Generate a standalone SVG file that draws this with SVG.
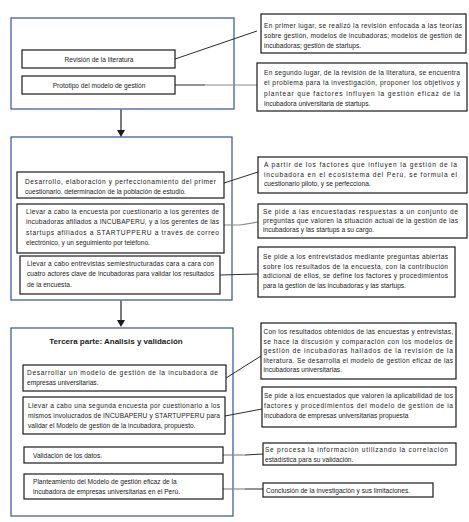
<svg xmlns="http://www.w3.org/2000/svg" width="469" height="522" viewBox="0 0 469 522">
<defs>
<style>
.cont{fill:none;stroke:#2F5496;stroke-width:1.2}
.box{fill:#fff;stroke:#1a1a1a;stroke-width:1.2}
.t{font-family:"Liberation Sans",Arial,sans-serif;font-size:6.6px;fill:#1a1a1a}
.c{text-anchor:middle}
.ttl{font-family:"Liberation Sans",Arial,sans-serif;font-size:8px;font-weight:bold;fill:#1a1a1a;text-anchor:middle}
.ln{fill:none;stroke:#2b2b2b;stroke-width:1}
.lg{fill:none;stroke:#8a8a8a;stroke-width:1.2}
.ar{fill:none;stroke:#7a7a7a;stroke-width:2}
</style>
<marker id="ah" viewBox="0 0 10 10" refX="9" refY="5" markerWidth="4" markerHeight="4" orient="auto" markerUnits="userSpaceOnUse">
<path d="M0,0 L10,5 L0,10 z" fill="#1a1a1a"/>
</marker>
</defs>
<rect width="469" height="522" fill="#fff"/>

<g id="containers">
<rect class="cont" x="11" y="18" width="223" height="91"/>
<rect class="cont" x="11" y="137" width="221" height="163"/>
<rect class="cont" x="11" y="328" width="222" height="188"/>
</g>

<g id="connectors">
<path class="ln" d="M175,59 L257,31"/>
<path class="ln" d="M175,85 L205,85"/>
<path class="lg" d="M205,85 L257,85"/>
<path class="ar" d="M121,109 L121,131"/>
<path d="M117,130 L125,130 L121,137 z" fill="#1a1a1a"/>
<path class="ln" d="M224,183 L258,172"/>
<path class="lg" d="M224,225 L240,225 L258,222"/>
<path class="ln" d="M220,275 L258,274"/>
<path class="ar" d="M121,300 L121,321"/>
<path d="M117,320 L125,320 L121,327 z" fill="#1a1a1a"/>
<path class="ln" d="M226,378 L261,356"/>
<path class="ln" d="M225,416 L262,409"/>
<path class="lg" d="M223,455 L245,455"/>
<path class="ln" d="M245,455 L263,454"/>
<path class="lg" d="M223,489 L245,489"/>
<path class="ln" d="M245,489 L263,489"/>
</g>

<g id="n-revision">
<rect class="box" x="22" y="50" width="153" height="18"/>
<text class="t c" x="99" y="61.5">Revisión de la literatura</text>
</g>
<g id="n-prototipo">
<rect class="box" x="22" y="76" width="153" height="18"/>
<text class="t c" x="99" y="87.5">Prototipo del modelo de gestión</text>
</g>
<g id="n-r1">
<rect class="box" x="261" y="14" width="205" height="39"/>
<text class="t" x="264" y="27.5" textLength="198" lengthAdjust="spacing">En primer lugar, se realizó la revisión enfocada a las teorías</text>
<text class="t" x="264" y="37.5" textLength="198" lengthAdjust="spacing">sobre gestión, modelos de incubadoras; modelos de gestión de</text>
<text class="t" x="264" y="47.5">incubadoras; gestión de startups.</text>
</g>
<g id="n-r2">
<rect class="box" x="257" y="63" width="210" height="48"/>
<text class="t" x="264" y="74.5" textLength="196" lengthAdjust="spacing">En segundo lugar, de la revisión de la literatura, se encuentra</text>
<text class="t" x="264" y="85" textLength="196" lengthAdjust="spacing">el problema para la investigación, proponer los objetivos y</text>
<text class="t" x="264" y="95.5" textLength="196" lengthAdjust="spacing">plantear que factores influyen la gestión eficaz de la</text>
<text class="t" x="264" y="106">incubadora universitaria de startups.</text>
</g>

<g id="n-a">
<rect class="box" x="17" y="172" width="207" height="26"/>
<text class="t" x="25" y="184" textLength="191" lengthAdjust="spacing">Desarrollo, elaboración y perfeccionamiento del primer</text>
<text class="t" x="25" y="194">cuestionario. determinación de la población de estudio.</text>
</g>
<g id="n-b">
<rect class="box" x="17" y="204" width="207" height="49"/>
<text class="t" x="26" y="214" textLength="193" lengthAdjust="spacing">Llevar a cabo la encuesta por cuestionario a los gerentes de</text>
<text class="t" x="26" y="224" textLength="193" lengthAdjust="spacing">incubadoras afiliados a INCUBAPERU, y a los gerentes de las</text>
<text class="t" x="26" y="234.5" textLength="193" lengthAdjust="spacing">startups afiliados a STARTUPPERU a través de correo</text>
<text class="t" x="26" y="245">electrónico, y un seguimiento por teléfono.</text>
</g>
<g id="n-c">
<rect class="box" x="20" y="256" width="200" height="38"/>
<text class="t" x="27" y="266" textLength="187" lengthAdjust="spacing">Llevar a cabo entrevistas semiestructuradas cara a cara con</text>
<text class="t" x="27" y="276" textLength="187" lengthAdjust="spacing">cuatro actores clave de incubadoras para validar los resultados</text>
<text class="t" x="27" y="286.5">de la encuesta.</text>
</g>
<g id="n-ra">
<rect class="box" x="258" y="157" width="209" height="36"/>
<text class="t" x="264" y="167" textLength="193" lengthAdjust="spacing">A partir de los factores que influyen la gestión de la</text>
<text class="t" x="264" y="176.5" textLength="193" lengthAdjust="spacing">incubadora en el ecosistema del Perú, se formula el</text>
<text class="t" x="264" y="186">cuestionario piloto, y se perfecciona.</text>
</g>
<g id="n-rb">
<rect class="box" x="258" y="204" width="209" height="34"/>
<text class="t" x="263" y="214" textLength="195" lengthAdjust="spacing">Se pide a las encuestadas respuestas a un conjunto de</text>
<text class="t" x="263" y="223" textLength="195" lengthAdjust="spacing">preguntas que valoren la situación actual de la gestión de las</text>
<text class="t" x="263" y="232">incubadoras y las startups a su cargo.</text>
</g>
<g id="n-rc">
<rect class="box" x="258" y="247" width="197" height="50"/>
<text class="t" x="263" y="259" textLength="185" lengthAdjust="spacing">Se pide a los entrevistados mediante preguntas abiertas</text>
<text class="t" x="263" y="268.5" textLength="185" lengthAdjust="spacing">sobre los resultados de la encuesta, con la contribución</text>
<text class="t" x="263" y="278" textLength="185" lengthAdjust="spacing">adicional de ellos, se define los factores y procedimientos</text>
<text class="t" x="263" y="287.5">para la gestión de las incubadoras y las startups.</text>
</g>

<text class="ttl" x="116" y="344">Tercera parte: Analisis y validación</text>

<g id="n-d">
<rect class="box" x="23" y="365" width="203" height="26"/>
<text class="t" x="27" y="375" textLength="191" lengthAdjust="spacing">Desarrollar un modelo de gestión de la incubadora de</text>
<text class="t" x="27" y="385">empresas universitarias.</text>
</g>
<g id="n-e">
<rect class="box" x="23" y="397" width="202" height="37"/>
<text class="t" x="28" y="408" textLength="192" lengthAdjust="spacing">Llevar a cabo una segunda encuesta por cuestionario a los</text>
<text class="t" x="28" y="418" textLength="192" lengthAdjust="spacing">mismos involucrados de INCUBAPERU y STARTUPPERU para</text>
<text class="t" x="28" y="428">validar el Modelo de gestión de la incubadora, propuesto.</text>
</g>
<g id="n-f">
<rect class="box" x="24" y="447" width="199" height="16"/>
<text class="t" x="33" y="457.5">Validación de los datos.</text>
</g>
<g id="n-g">
<rect class="box" x="24" y="474" width="199" height="25"/>
<text class="t" x="33" y="484">Planteamiento del Modelo de gestión eficaz de la</text>
<text class="t" x="33" y="494">incubadora de empresas universitarias en el Perú.</text>
</g>
<g id="n-rd">
<rect class="box" x="261" y="323" width="195" height="56"/>
<text class="t" x="263.5" y="333.5" textLength="189.5" lengthAdjust="spacing">Con los resultados obtenidos de las encuestas y entrevistas,</text>
<text class="t" x="263.5" y="343.5" textLength="189.5" lengthAdjust="spacing">se hace la discusión y comparación con los modelos de</text>
<text class="t" x="263.5" y="353" textLength="189.5" lengthAdjust="spacing">gestión de incubadoras hallados de la revisión de la</text>
<text class="t" x="263.5" y="362.5" textLength="189.5" lengthAdjust="spacing">literatura. Se desarrolla el modelo de gestión eficaz de las</text>
<text class="t" x="263.5" y="372">incubadoras universitarias.</text>
</g>
<g id="n-re">
<rect class="box" x="262" y="387" width="194" height="40"/>
<text class="t" x="264" y="397.5" textLength="189" lengthAdjust="spacing">Se pide a los encuestados que valoren la aplicabilidad de los</text>
<text class="t" x="264" y="407.5" textLength="189" lengthAdjust="spacing">factores y procedimientos del modelo de gestión de la</text>
<text class="t" x="264" y="417.5">incubadora de empresas universitarias propuesta</text>
</g>
<g id="n-rf">
<rect class="box" x="263" y="443" width="193" height="22"/>
<text class="t" x="265" y="452" textLength="183" lengthAdjust="spacing">Se procesa la información utilizando la correlación</text>
<text class="t" x="265" y="461.5">estadística para su validación.</text>
</g>
<g id="n-rg">
<rect class="box" x="263" y="483" width="170" height="14"/>
<text class="t" x="266" y="492.5">Conclusión de la investigación y sus limitaciones.</text>
</g>
</svg>
